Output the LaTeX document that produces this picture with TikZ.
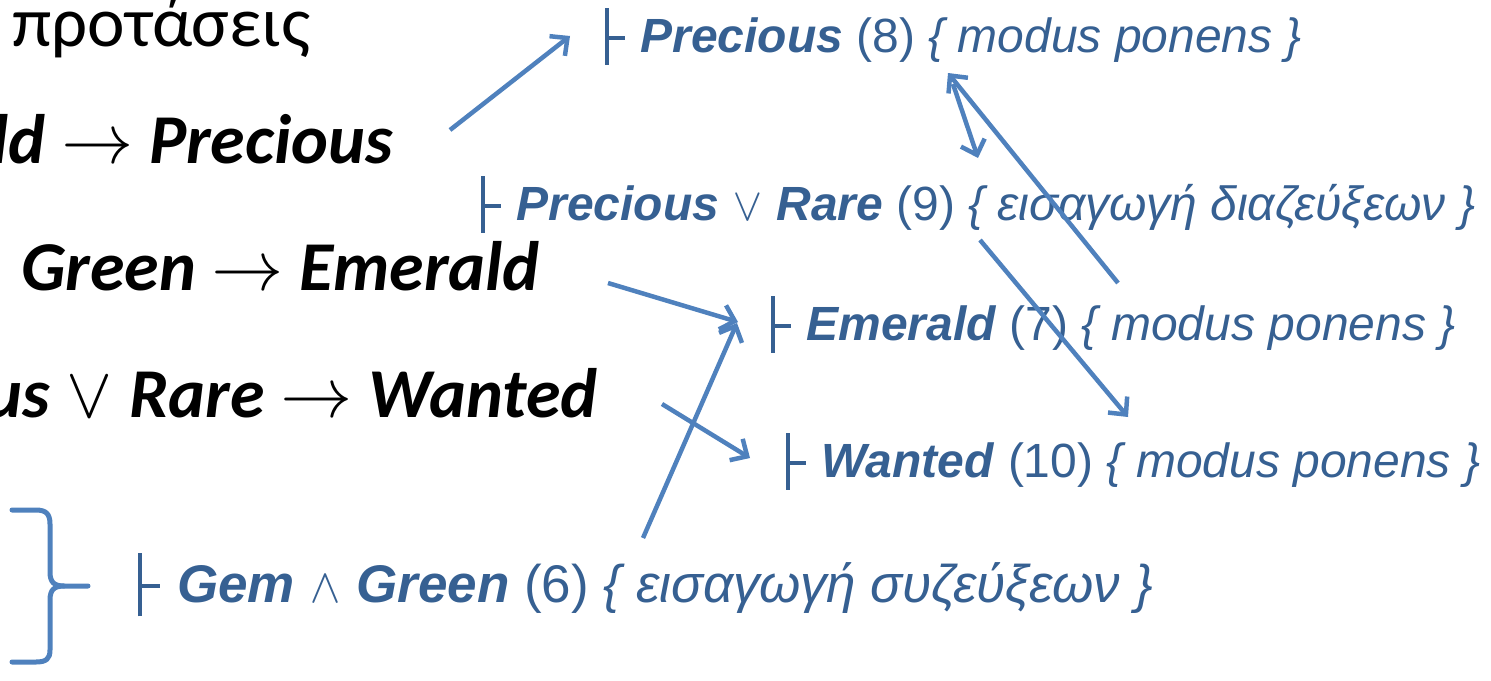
\documentclass[tikz,border=0pt]{standalone}
\usepackage{fontspec}
\usetikzlibrary{arrows.meta}
\newfontfamily\calfont{Carlito}
\newfontfamily\arfont{Liberation Sans}
\newfontfamily\opfont{latinmodern-math.otf}
\definecolor{txtblue}{RGB}{54,96,146}
\definecolor{arrblue}{RGB}{79,129,189}
\newcommand{\tstile}{\rule[-0.27em]{0.073em}{1.19em}\rule[0.26em]{0.33em}{0.073em}\hspace{0.33em}}
\newcommand{\bor}{{\opfont\upshape\mdseries\fontsize{46}{46}\selectfont ∨}}
\newcommand{\band}{{\opfont\upshape\mdseries\fontsize{48}{48}\selectfont ∧}}
\newcommand{\kor}{{\opfont\upshape\mdseries\fontsize{72}{72}\selectfont ∨}}
\newcommand{\karr}{{\opfont\upshape\mdseries\fontsize{72}{72}\selectfont →}}
\tikzset{
  blk/.style={inner sep=0pt, text=black, font=\calfont\bfseries\itshape\fontsize{70}{84}\selectfont},
  blu/.style={inner sep=0pt, anchor=base west, text=txtblue, font=\arfont\fontsize{48}{58}\selectfont},
  arr/.style={draw=arrblue, line width=4.5pt, -{Straight Barb[length=13pt,width=25pt]}},
  brace/.style={draw=arrblue, line width=5pt, line cap=round}
}
\newcommand{\fbi}[1]{\textbf{\textit{#1}}}
\newcommand{\fit}[1]{\textit{#1}}
\begin{document}
\begin{tikzpicture}[x=1pt,y=-1pt]
\useasboundingbox (0,0) rectangle (1491,680);
\clip (0,0) rectangle (1491,680);
% black premises
\node[inner sep=0pt, anchor=base west, font=\calfont\fontsize{71}{85}\selectfont] (prot) at (12,46) {προτάσεις};
\node[blk, anchor=base east] (k1) at (393,163) {ld \karr{} Precious};
\node[blk, anchor=base east] (k2) at (540,290) {Green \karr{} Emerald};
\node[blk, anchor=base east] (k3) at (598,417) {us \kor{} Rare \karr{} Wanted};
% blue derivations
\node[blu] (p8) at (605,52) {\tstile\fbi{Precious} (8) \fit{\{ modus ponens \}}};
\node[blu] (p9) at (481,220) {\tstile\fbi{Precious} \bor{} \fbi{Rare} (9) \fit{\{ εισαγωγή διαζεύξεων \}}};
\node[blu] (e7) at (771,340) {\tstile\fbi{Emerald} (7) \fit{\{ modus ponens \}}};
\node[blu] (w10) at (786,477) {\tstile\fbi{Wanted} (10) \fit{\{ modus ponens \}}};
\node[blu, font=\arfont\fontsize{53}{64}\selectfont] (g6) at (138,602) {\tstile\fbi{Gem} \band{} \fbi{Green} (6) \fit{\{ εισαγωγή συζεύξεων \}}};
% brace
\draw[brace] (12,510) -- (36,510) .. controls (46,510) and (50,514) .. (50,524) -- (50,572) .. controls (50,582) and (54,586) .. (64,586) -- (88,586);
\draw[brace] (64,586) .. controls (54,586) and (50,590) .. (50,600) -- (50,650) .. controls (50,659) and (46,662) .. (36,662) -- (12,662);
% arrow end points
\coordinate (a1s) at (450,130); \coordinate (a1e) at (570,36);
\coordinate (a2s) at (1118,283); \coordinate (a2e) at (948,73);
\coordinate (a3s) at (953,84); \coordinate (a3e) at (978,158);
\coordinate (a4s) at (980,240); \coordinate (a4e) at (1128,417);
\coordinate (a5s) at (608,283); \coordinate (a5e) at (738,322);
\coordinate (a6s) at (643,538); \coordinate (a6e) at (737,323);
\coordinate (a7s) at (662,404); \coordinate (a7e) at (750,458);
\draw[arr] (a1s) -- (a1e);
\draw[arr] (a2s) -- (a2e);
\draw[arr] (a3s) -- (a3e);
\draw[arr] (a4s) -- (a4e);
\draw[arr] (a5s) -- (a5e);
\draw[arr] (a6s) -- (a6e);
\draw[arr] (a7s) -- (a7e);
\end{tikzpicture}
\end{document}
